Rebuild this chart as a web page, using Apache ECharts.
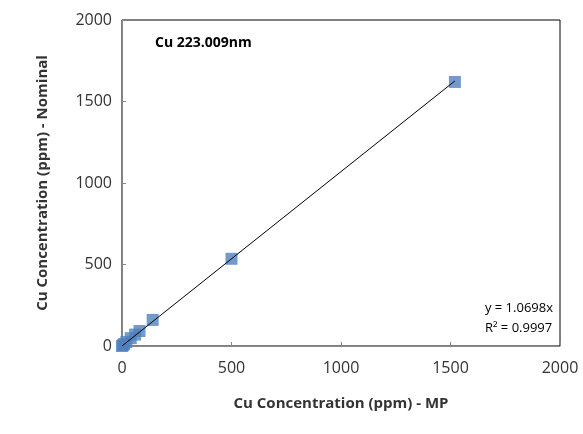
<!DOCTYPE html><html><head><meta charset="utf-8"><script src="https://cdn.jsdelivr.net/npm/echarts@6/dist/echarts.min.js"></script></head><body style="margin:0"><div id="c" style="width:583px;height:434px"></div><script>
const xs=[0,5,10,20,40,60,80,140,500,1520];
const ys=[0,5,12,25,48,70,92,160,535,1620];
const slope=1.0698;
const lineX=[0,1520];
const ch=echarts.init(document.getElementById('c'));
const f='Open Sans, Liberation Sans, sans-serif';
ch.setOption({animation:false,
grid:{left:122,right:23,top:20,bottom:88,show:true,borderColor:'#000',borderWidth:1},
xAxis:{type:'value',min:0,max:2000,interval:500,name:'Cu Concentration (ppm) - MP',nameLocation:'middle',nameGap:50,nameTextStyle:{fontFamily:f,fontSize:15,fontWeight:'bold',color:'#333'},axisLine:{lineStyle:{color:'#888'}},axisTick:{show:true,inside:true,length:4,lineStyle:{color:'#888'}},splitLine:{show:false},axisLabel:{fontFamily:f,fontSize:16,color:'#333',margin:14,formatter:v=>String(v)}},
yAxis:{type:'value',min:0,max:2000,interval:500,name:'Cu Concentration (ppm) - Nominal',nameLocation:'middle',nameGap:72,nameTextStyle:{fontFamily:f,fontSize:15,fontWeight:'bold',color:'#333'},axisLine:{show:true,lineStyle:{color:'#888'}},axisTick:{show:true,inside:true,length:4,lineStyle:{color:'#888'}},splitLine:{show:false},axisLabel:{fontFamily:f,fontSize:16,color:'#333',margin:10,formatter:v=>String(v)}},
graphic:[{type:'text',left:155,top:36,style:{text:'Cu 223.009nm',font:'bold 14px '+f,fill:'#000'}},
{type:'text',right:30,top:298,style:{text:'y = 1.0698x\nR² = 0.9997',font:'13px '+f,fill:'#000',align:'right',lineHeight:20}}],
series:[{type:'scatter',symbol:'rect',symbolSize:12,itemStyle:{color:'#4f81bd'},data:xs.map((x,i)=>[x,ys[i]]),z:2},
{type:'line',symbol:'none',lineStyle:{color:'#000',width:1},data:lineX.map(x=>[x,x*slope]),z:3}]});
</script></body></html>
